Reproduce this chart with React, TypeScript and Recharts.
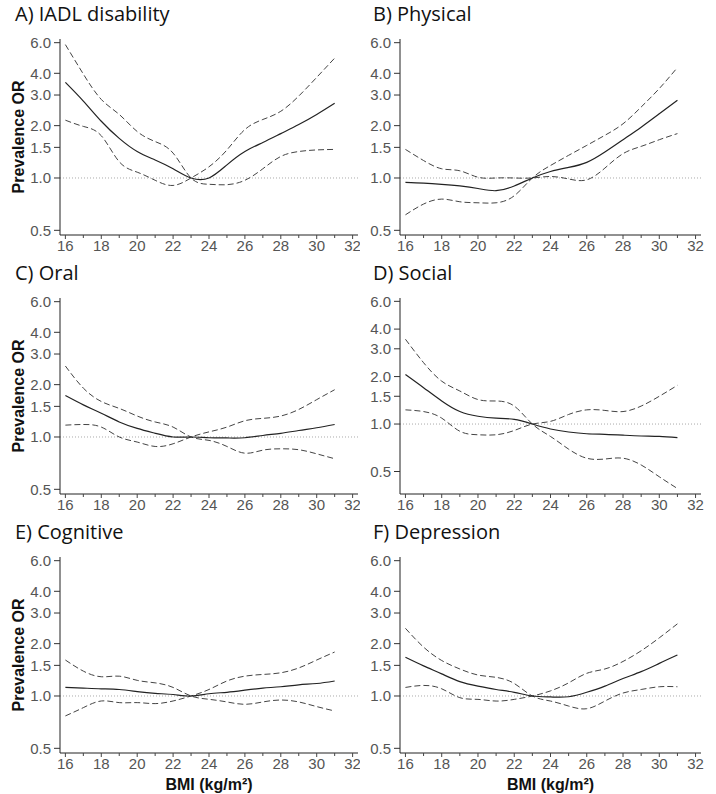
import { LineChart, Line, XAxis, YAxis, ReferenceLine, Label } from "recharts"

const bmi = [16, 17, 18, 19, 20, 21, 22, 23, 24, 25, 26, 27, 28, 29, 30, 31]
const xTicks = [16, 17, 18, 19, 20, 21, 22, 23, 24, 25, 26, 27, 28, 29, 30, 31, 32]
const yTicks = [0.5, 1, 1.5, 2, 3, 4, 6]

// The two confidence bounds cross at the reference BMI (23), so each dashed
// curve is kept as one continuous line: ci1 starts high, ci2 starts low.

// A) IADL disability
const iadlOr = [3.55, 2.77, 2.12, 1.69, 1.42, 1.27, 1.13, 1.0, 1.0, 1.19, 1.42, 1.6, 1.8, 2.03, 2.32, 2.69]
const iadlCi1 = [5.85, 3.96, 2.83, 2.32, 1.85, 1.62, 1.39, 1.0, 0.92, 0.915, 0.97, 1.13, 1.33, 1.42, 1.45, 1.46]
const iadlCi2 = [2.15, 1.98, 1.75, 1.24, 1.08, 0.97, 0.906, 1.0, 1.16, 1.45, 1.9, 2.17, 2.42, 2.96, 3.79, 4.89]

// B) Physical
const physOr = [0.944, 0.935, 0.92, 0.9, 0.87, 0.845, 0.9, 1.0, 1.09, 1.15, 1.23, 1.41, 1.66, 1.96, 2.34, 2.8]
const physCi1 = [1.46, 1.26, 1.13, 1.1, 1.01, 1.0, 1.0, 1.0, 1.02, 0.987, 0.976, 1.14, 1.38, 1.52, 1.66, 1.8]
const physCi2 = [0.614, 0.708, 0.756, 0.73, 0.72, 0.72, 0.79, 1.0, 1.18, 1.35, 1.54, 1.76, 2.05, 2.56, 3.27, 4.32]

// C) Oral
const oralOr = [1.73, 1.53, 1.37, 1.22, 1.12, 1.05, 1.0, 1.0, 0.99, 0.987, 0.99, 1.02, 1.05, 1.09, 1.13, 1.18]
const oralCi1 = [2.56, 1.91, 1.6, 1.46, 1.32, 1.22, 1.14, 1.0, 0.956, 0.882, 0.807, 0.84, 0.855, 0.845, 0.8, 0.75]
const oralCi2 = [1.17, 1.18, 1.14, 1.0, 0.935, 0.882, 0.914, 1.0, 1.07, 1.14, 1.24, 1.28, 1.32, 1.44, 1.64, 1.87]

// D) Social
const socOr = [2.06, 1.7, 1.4, 1.2, 1.12, 1.09, 1.07, 1.0, 0.93, 0.89, 0.868, 0.86, 0.85, 0.84, 0.835, 0.82]
const socCi1 = [3.45, 2.45, 1.87, 1.62, 1.43, 1.4, 1.3, 1.0, 0.834, 0.693, 0.607, 0.6, 0.607, 0.55, 0.463, 0.39]
const socCi2 = [1.23, 1.2, 1.09, 0.9, 0.855, 0.855, 0.91, 1.0, 1.04, 1.15, 1.23, 1.22, 1.2, 1.3, 1.5, 1.76]

// E) Cognitive
const cogOr = [1.12, 1.11, 1.1, 1.09, 1.06, 1.035, 1.02, 1.0, 1.03, 1.05, 1.08, 1.11, 1.13, 1.16, 1.18, 1.22]
const cogCi1 = [1.61, 1.39, 1.29, 1.3, 1.23, 1.19, 1.12, 1.0, 0.957, 0.924, 0.896, 0.924, 0.948, 0.924, 0.869, 0.82]
const cogCi2 = [0.768, 0.857, 0.936, 0.916, 0.916, 0.904, 0.936, 1.0, 1.09, 1.22, 1.3, 1.33, 1.36, 1.45, 1.61, 1.79]

// F) Depression
const depOr = [1.67, 1.49, 1.34, 1.21, 1.14, 1.09, 1.05, 1.0, 0.987, 0.99, 1.05, 1.14, 1.26, 1.38, 1.54, 1.72]
const depCi1 = [2.45, 1.91, 1.6, 1.43, 1.32, 1.28, 1.18, 1.0, 0.935, 0.875, 0.845, 0.935, 1.04, 1.09, 1.13, 1.13]
const depCi2 = [1.12, 1.15, 1.1, 0.978, 0.956, 0.935, 0.956, 1.0, 1.07, 1.19, 1.35, 1.43, 1.58, 1.82, 2.16, 2.6]

const panels = [
  { title: "A) IADL disability", or: iadlOr, ci1: iadlCi1, ci2: iadlCi2, yMin: 0.47 },
  { title: "B) Physical", or: physOr, ci1: physCi1, ci2: physCi2, yMin: 0.47 },
  { title: "C) Oral", or: oralOr, ci1: oralCi1, ci2: oralCi2, yMin: 0.47 },
  { title: "D) Social", or: socOr, ci1: socCi1, ci2: socCi2, yMin: 0.36 },
  { title: "E) Cognitive", or: cogOr, ci1: cogCi1, ci2: cogCi2, yMin: 0.47 },
  { title: "F) Depression", or: depOr, ci1: depCi1, ci2: depCi2, yMin: 0.47 },
]

const tickFont = "'Liberation Sans', Arial, sans-serif"
const plotTops = [39, 298, 557]
const plotH = 196

function XTick({ x, y, payload }: any) {
  const v = payload.value
  const major = v % 2 === 0
  return (
    <g>
      <line x1={x} x2={x} y1={y - 5} y2={y - 5 + (major ? 4 : 3)} stroke="#444" />
      {major && (
        <text x={x} y={y} dy="0.75em" textAnchor="middle" fill="#555" fontSize={15} fontFamily={tickFont}>
          {v}
        </text>
      )}
    </g>
  )
}

function Panel({ p, i }: { p: (typeof panels)[number]; i: number }) {
  const col = i % 2
  const row = Math.floor(i / 2)
  const last = row === 2
  const xh = last ? 42 : 24
  const data = bmi.map((b, k) => ({ bmi: b, or: p.or[k], ci1: p.ci1[k], ci2: p.ci2[k] }))
  const left = col === 0 ? 0 : 356
  const width = col === 0 ? 360 : 350
  const yw = col === 0 ? 60 : 44

  return (
    <div style={{ position: "absolute", left, top: plotTops[row] - 5 }}>
      <LineChart width={width} height={5 + plotH + xh} data={data} margin={{ top: 5, right: col === 0 ? 2 : 5, left: 0, bottom: 0 }}>
        <XAxis
          dataKey="bmi"
          type="number"
          domain={[15.7, 32.3]}
          ticks={xTicks}
          interval={0}
          allowDataOverflow
          height={xh}
          tickSize={5}
          tickMargin={0}
          tickLine={false}
          tick={<XTick />}
          axisLine={{ stroke: "#222" }}
        >
          {last && (
            <Label
              value="BMI (kg/m²)"
              position="insideBottom"
              offset={5}
              fill="#111"
              fontSize={16}
              fontWeight="bold"
              fontFamily={tickFont}
            />
          )}
        </XAxis>
        <YAxis
          type="number"
          scale="log"
          domain={[p.yMin, 6.3]}
          allowDataOverflow
          ticks={yTicks}
          interval={0}
          width={yw}
          tickFormatter={(v: number) => v.toFixed(1)}
          tick={{ fill: "#555", fontSize: 15, fontFamily: tickFont }}
          tickSize={6}
          tickMargin={3}
          tickLine={{ stroke: "#333" }}
          axisLine={{ stroke: "#222" }}
        >
          {col === 0 && (
            <Label
              value="Prevalence OR"
              angle={-90}
              position="insideLeft"
              offset={18}
              fill="#111"
              fontSize={16}
              fontWeight="bold"
              fontFamily={tickFont}
              style={{ textAnchor: "middle" }}
            />
          )}
        </YAxis>
        <ReferenceLine y={1} stroke="#aaa" strokeDasharray="1 2" />
        <Line type="natural" dataKey="ci1" stroke="#444" strokeWidth={1} strokeDasharray="6 3" dot={false} isAnimationActive={false} />
        <Line type="natural" dataKey="ci2" stroke="#444" strokeWidth={1} strokeDasharray="6 3" dot={false} isAnimationActive={false} />
        <Line type="natural" dataKey="or" stroke="#222" strokeWidth={1.2} dot={false} isAnimationActive={false} />
      </LineChart>
      <div
        style={{
          position: "absolute",
          left: col === 0 ? 15 : 17,
          top: -30,
          fontFamily: "'Open Sans', sans-serif",
          fontSize: 20,
          lineHeight: "20px",
          color: "#111",
          whiteSpace: "nowrap",
        }}
      >
        {p.title}
      </div>
    </div>
  )
}

export default function App() {
  return (
    <div style={{ position: "absolute", left: 0, top: 0, width: 716, height: 794, background: "#fff", overflow: "hidden" }}>
      {panels.map((p, i) => (
        <Panel key={p.title} p={p} i={i} />
      ))}
    </div>
  )
}
